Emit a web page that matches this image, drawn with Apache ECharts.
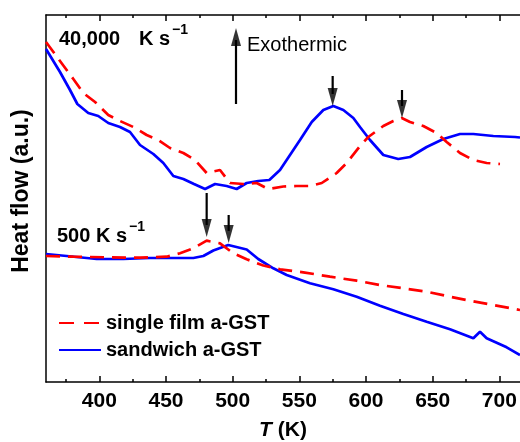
<!DOCTYPE html>
<html><head><meta charset="utf-8">
<script src="https://cdn.jsdelivr.net/npm/echarts@6/dist/echarts.min.js"></script>
<style>html,body{margin:0;padding:0;background:#fff}#c{width:520px;height:442px}</style>
</head><body><div id="c"></div>
<script>
// x axis ticks
const xTickLabels = [400, 450, 500, 550, 600, 650, 700];
const xMinorTicks = [375, 425, 475, 525, 575, 625, 675];

// 40,000 K/s, sandwich a-GST (blue)
const sandwich40kT = [360, 370.5, 378, 383.5, 391.7, 399.2, 406.7, 415.5, 423, 430.5, 440.5, 448, 455.5, 463, 471, 479.3, 486.8, 495.5, 503, 510.5, 519.2, 527.5, 535.5, 543, 550.5, 559.3, 568, 575.5, 583, 590.5, 595.5, 603, 613, 624.2, 633, 645.5, 658, 670.5, 680.5, 695.5, 711.8, 715.5];
const sandwich40kV = [333, 310, 292, 278, 269, 266, 259, 255, 250, 237, 228, 219, 206, 203, 198, 193, 198, 196, 193, 199, 201, 202, 212, 227, 242, 260, 272, 276, 272, 264, 255, 242, 227, 223, 225, 235, 243, 248, 248, 246, 245, 244.5];

// 40,000 K/s, single film a-GST (red dashed)
const single40kT = [360, 380.5, 388, 396.8, 406.7, 415.5, 425.5, 435.5, 444.2, 453, 463, 471.8, 480.5, 490.5, 498, 508, 518, 526.7, 538, 548, 558, 566.8, 578, 585.5, 595.5, 601.7, 613, 620.5, 626.8, 633, 643, 653, 660.5, 670.5, 680.5, 690.5, 700.5];
const single40kV = [340, 303, 289, 280, 267, 261, 255, 247, 242, 234, 229, 222, 209, 212, 199, 198, 199, 193, 195.5, 196, 196, 199, 209, 219, 236, 245, 256, 261, 264, 260, 256, 249, 240, 229, 222, 219, 218];

// 500 K/s, sandwich a-GST (blue)
const sandwich500T = [360, 375.5, 398, 418, 438, 455.5, 470.5, 478, 485.5, 496.7, 510.5, 519.2, 530.5, 540.5, 558, 575.5, 593, 610.5, 628, 645.5, 663, 680.5, 685.5, 690.5, 698, 705.5, 715.5];
const sandwich500V = [128, 126, 123, 123, 124, 124, 124, 126, 131.5, 137, 132.5, 123, 113.7, 107, 98.7, 92.7, 85.3, 76.3, 68, 60.3, 52.7, 43.7, 50.3, 43.7, 39.3, 34.7, 27];

// 500 K/s, single film a-GST (red dashed)
const single500T = [360, 380.5, 405.5, 430.5, 450.5, 460.5, 470.5, 480.5, 490.5, 500.5, 510.5, 523, 535.5, 553, 573, 593, 610.5, 628, 645.5, 663, 678, 695.5, 715.5];
const single500V = [126, 125.3, 124.7, 124.3, 125.3, 128.7, 133.7, 141.3, 138.7, 128.7, 122.7, 116.5, 112.7, 109.7, 105.3, 101.3, 97, 93.7, 90.3, 85.3, 81.3, 77, 72];

// arrows (x in K, y in a.u.)
const arrowT = [575, 627, 480.5, 497, 502.5];
const arrowFrom = [306, 292, 189, 167, 278];
const arrowTip = [276, 264, 145, 139, 354];

const seriesNames = ['single film a-GST', 'sandwich a-GST'];

const FONT = 'Liberation Sans, Arial, sans-serif';
const zip = (a, b) => a.map((v, i) => [v, b[i]]);
const xMin = 360, xMax = 715.5;

const blueStyle = { color: '#0000ff', width: 2.7, type: 'solid' };
const redStyle = { color: '#ff0000', width: 2.7, type: [14, 8] };

const series = [
  { name: seriesNames[1], type: 'line', data: zip(sandwich40kT, sandwich40kV), lineStyle: blueStyle, itemStyle: { color: '#0000ff' } },
  { name: seriesNames[1], type: 'line', data: zip(sandwich500T, sandwich500V), lineStyle: blueStyle, itemStyle: { color: '#0000ff' } },
  { name: seriesNames[0], type: 'line', data: zip(single40kT, single40kV), lineStyle: redStyle, itemStyle: { color: '#ff0000' } },
  { name: seriesNames[0], type: 'line', data: zip(single500T, single500V), lineStyle: redStyle, itemStyle: { color: '#ff0000' } }
].map(s => Object.assign(s, { symbol: 'none', showSymbol: false, silent: true, animation: false, z: 3 }));

arrowT.forEach((t, i) => {
  const down = arrowTip[i] < arrowFrom[i];
  const base = down ? arrowTip[i] + 12 : arrowTip[i] - 12;
  series.push({
    type: 'line', data: [[t, arrowFrom[i]], [t, base]], symbol: 'none', silent: true, animation: false,
    lineStyle: { color: '#000', width: 2.2 }, z: 5
  });
  series.push({
    type: 'scatter', data: [[t, arrowTip[i]]], symbol: 'triangle', symbolSize: [10, 18],
    symbolRotate: down ? 180 : 0, symbolOffset: [0, down ? '-50%' : '50%'],
    itemStyle: { color: '#000' }, silent: true, animation: false, z: 6
  });
});

const axisLineStyle = { color: '#000', width: 1.5 };
function xAx(pos, ticks, len, main) {
  return {
    type: 'value', position: pos, min: xMin, max: xMax,
    axisLine: { show: main, onZero: false, lineStyle: axisLineStyle },
    axisTick: { show: true, inside: true, length: len, customValues: ticks, lineStyle: axisLineStyle },
    axisLabel: (pos === 'bottom' && main) ? {
      show: true, customValues: xTickLabels, margin: 9,
      fontFamily: FONT, fontWeight: 'bold', fontSize: 21, color: '#000'
    } : { show: false },
    splitLine: { show: false }
  };
}
const xAxes = [
  xAx('bottom', xTickLabels, 6, true),
  xAx('bottom', xMinorTicks, 3, false),
  xAx('top', xTickLabels, 6, true),
  xAx('top', xMinorTicks, 3, false)
];
Object.assign(xAxes[0], {
  name: '{i|T}{n| (K)}', nameLocation: 'middle', nameGap: 38,
  nameTextStyle: {
    rich: {
      i: { fontFamily: FONT, fontWeight: 'bold', fontStyle: 'italic', fontSize: 21, color: '#000' },
      n: { fontFamily: FONT, fontWeight: 'bold', fontSize: 21, color: '#000' }
    }
  }
});

const option = {
  backgroundColor: '#fff',
  animation: false,
  grid: { left: 46, right: 0, top: 15, bottom: 60, containLabel: false, outerBoundsMode: 'none' },
  xAxis: xAxes,
  yAxis: {
    type: 'value', min: 0, max: 367,
    axisLine: { show: true, onZero: false, lineStyle: axisLineStyle },
    axisTick: { show: false }, axisLabel: { show: false }, splitLine: { show: false },
    name: 'Heat flow (a.u.)', nameLocation: 'middle', nameGap: 13,
    nameTextStyle: { fontFamily: FONT, fontWeight: 'bold', fontSize: 23, color: '#000', padding: [0, 0, 0, 15] }
  },
  legend: {
    data: [
      { name: seriesNames[0], lineStyle: { type: [15, 10] } },
      { name: seriesNames[1] }
    ],
    orient: 'vertical', left: 58, top: 313, padding: 0,
    itemWidth: 42, itemHeight: 14, itemGap: 7, selectedMode: false,
    itemStyle: { opacity: 0, borderWidth: 0 },
    textStyle: { fontFamily: FONT, fontWeight: 'bold', fontSize: 20, color: '#000' }
  },
  graphic: [
    { type: 'text', x: 59, y: 39, style: { text: '40,000', font: 'bold 20px ' + FONT, fill: '#000', verticalAlign: 'middle' } },
    { type: 'text', x: 139, y: 39, style: { text: 'K s', font: 'bold 20px ' + FONT, fill: '#000', verticalAlign: 'middle' } },
    { type: 'text', x: 172, y: 30, style: { text: '\u22121', font: 'bold 14px ' + FONT, fill: '#000', verticalAlign: 'middle' } },
    { type: 'text', x: 57, y: 236, style: { text: '500 K s', font: 'bold 20px ' + FONT, fill: '#000', verticalAlign: 'middle' } },
    { type: 'text', x: 129, y: 227, style: { text: '\u22121', font: 'bold 14px ' + FONT, fill: '#000', verticalAlign: 'middle' } },
    { type: 'text', x: 247, y: 45, style: { text: 'Exothermic', font: '20px ' + FONT, fill: '#000', verticalAlign: 'middle' } }
  ],
  series: series
};
const chart = echarts.init(document.getElementById('c'), null, { renderer: 'canvas' });
chart.setOption(option);
</script>
</body></html>
